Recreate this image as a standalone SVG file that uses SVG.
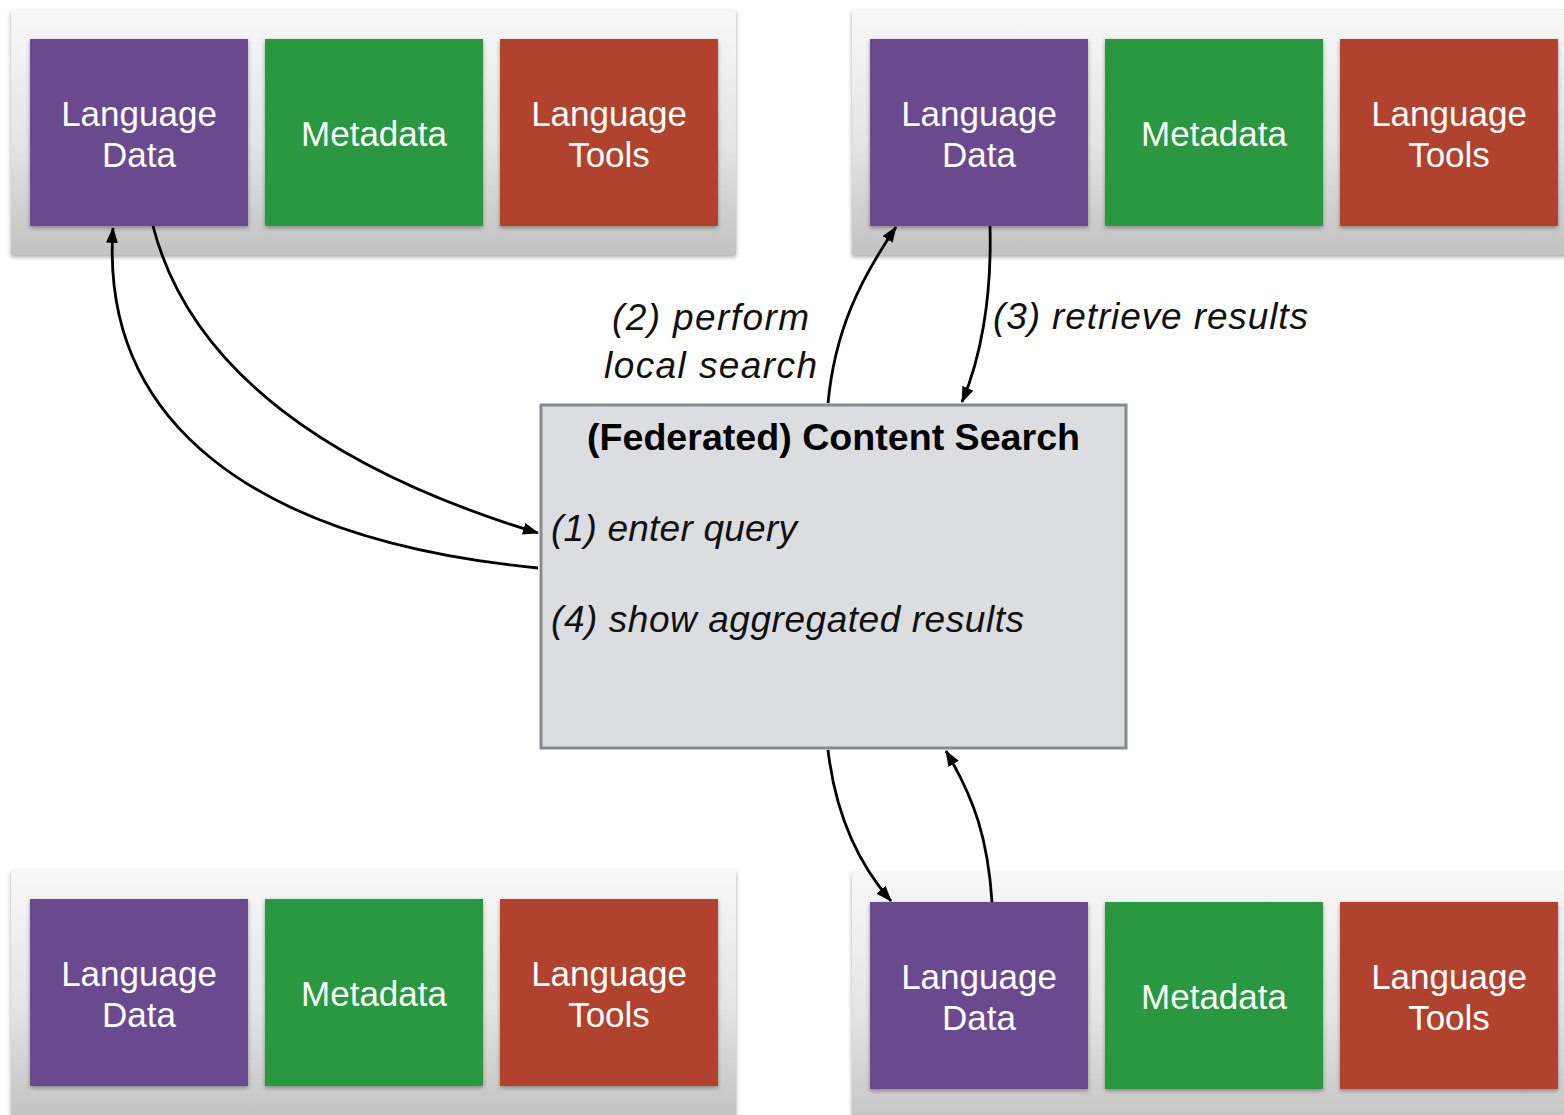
<svg xmlns="http://www.w3.org/2000/svg" width="1564" height="1115" viewBox="0 0 1564 1115">
<defs>
<linearGradient id="pg" x1="0" y1="0" x2="0" y2="1">
<stop offset="0" stop-color="#f8f8f8"/>
<stop offset="0.55" stop-color="#e4e4e4"/>
<stop offset="1" stop-color="#c2c2c2"/>
</linearGradient>
<filter id="sh" x="-5%" y="-5%" width="110%" height="115%">
<feDropShadow dx="0" dy="2" stdDeviation="2" flood-color="#000" flood-opacity="0.35"/>
</filter>
<marker id="ah" viewBox="0 0 16 12" refX="15" refY="6" markerWidth="16" markerHeight="12" markerUnits="userSpaceOnUse" orient="auto">
<path d="M0,0 L16,6 L0,12 Z" fill="#000"/>
</marker>
</defs>
<style>
.panel{fill:url(#pg);filter:url(#sh)}
.p{fill:#6b4a8f;filter:url(#sh)}
.g{fill:#2c9841;filter:url(#sh)}
.r{fill:#b1432f;filter:url(#sh)}
.bt{font-family:"Liberation Sans",Arial,sans-serif;font-size:35px;fill:#fff;text-anchor:middle}
.it{font-family:"Liberation Sans",Arial,sans-serif;font-size:37px;font-style:italic;fill:#111}
.c{fill:none;stroke:#000;stroke-width:2.8;marker-end:url(#ah)}
</style>
<rect width="1564" height="1115" fill="#fff"/>

<g id="site-top-left">
<rect class="panel" x="11" y="10" width="725" height="245"/>
<g id="tl-data"><rect class="p" x="30" y="39" width="218" height="187"/><text class="bt" x="139" y="126">Language</text><text class="bt" x="139" y="167">Data</text></g>
<g id="tl-meta"><rect class="g" x="265" y="39" width="218" height="187"/><text class="bt" x="374" y="146">Metadata</text></g>
<g id="tl-tools"><rect class="r" x="500" y="39" width="218" height="187"/><text class="bt" x="609" y="126">Language</text><text class="bt" x="609" y="167">Tools</text></g>
</g>

<g id="site-top-right">
<rect class="panel" x="852" y="10" width="730" height="245"/>
<g id="tr-data"><rect class="p" x="870" y="39" width="218" height="187"/><text class="bt" x="979" y="126">Language</text><text class="bt" x="979" y="167">Data</text></g>
<g id="tr-meta"><rect class="g" x="1105" y="39" width="218" height="187"/><text class="bt" x="1214" y="146">Metadata</text></g>
<g id="tr-tools"><rect class="r" x="1340" y="39" width="218" height="187"/><text class="bt" x="1449" y="126">Language</text><text class="bt" x="1449" y="167">Tools</text></g>
</g>

<g id="site-bottom-left">
<rect class="panel" x="11" y="870" width="725" height="250"/>
<g id="bl-data"><rect class="p" x="30" y="899" width="218" height="187"/><text class="bt" x="139" y="986">Language</text><text class="bt" x="139" y="1027">Data</text></g>
<g id="bl-meta"><rect class="g" x="265" y="899" width="218" height="187"/><text class="bt" x="374" y="1006">Metadata</text></g>
<g id="bl-tools"><rect class="r" x="500" y="899" width="218" height="187"/><text class="bt" x="609" y="986">Language</text><text class="bt" x="609" y="1027">Tools</text></g>
</g>

<g id="site-bottom-right">
<rect class="panel" x="852" y="872" width="730" height="260"/>
<g id="br-data"><rect class="p" x="870" y="902" width="218" height="187"/><text class="bt" x="979" y="989">Language</text><text class="bt" x="979" y="1030">Data</text></g>
<g id="br-meta"><rect class="g" x="1105" y="902" width="218" height="187"/><text class="bt" x="1214" y="1009">Metadata</text></g>
<g id="br-tools"><rect class="r" x="1340" y="902" width="218" height="187"/><text class="bt" x="1449" y="989">Language</text><text class="bt" x="1449" y="1030">Tools</text></g>
</g>

<g id="content-search">
<rect x="541" y="405" width="585" height="343" fill="#dcdde0" stroke="#898a8d" stroke-width="3"/>
<text x="587" y="450" textLength="493" lengthAdjust="spacingAndGlyphs" font-family="'Liberation Sans',Arial,sans-serif" font-size="36" font-weight="bold" fill="#000">(Federated) Content Search</text>
<text class="it" x="551" y="541" textLength="246" lengthAdjust="spacing">(1) enter query</text>
<text class="it" x="551" y="632" textLength="473" lengthAdjust="spacing">(4) show aggregated results</text>
</g>

<g id="connectors">
<path class="c" d="M153,226 C190,370 330,470 538,533"/>
<path class="c" d="M538,568 C250,540 100,420 113,228"/>
<path class="c" d="M828,403 C835,330 860,280 896,227"/>
<path class="c" d="M990,226 C992,300 980,360 962,402"/>
<path class="c" d="M828,750 C835,810 855,860 891,901"/>
<path class="c" d="M992,902 C988,840 975,800 946,751"/>
</g>

<g id="labels">
<text class="it" x="612" y="330" textLength="197" lengthAdjust="spacing">(2) perform</text>
<text class="it" x="604" y="378" textLength="213" lengthAdjust="spacing">local search</text>
<text class="it" x="993" y="329" textLength="315" lengthAdjust="spacing">(3) retrieve results</text>
</g>
</svg>
